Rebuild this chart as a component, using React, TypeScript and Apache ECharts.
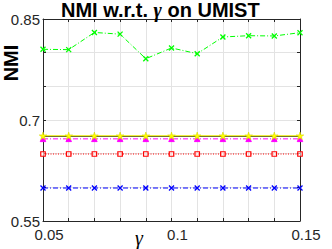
import React, { useEffect, useRef } from "react";
import * as echarts from "echarts";

const gammaValues = [0.05, 0.06, 0.07, 0.08, 0.09, 0.1, 0.11, 0.12, 0.13, 0.14, 0.15];
const greenValues = [0.805, 0.8045, 0.830, 0.8275, 0.791, 0.807, 0.7985, 0.8233, 0.8252, 0.8248, 0.8297];
const yellowValues = [0.6765, 0.6765, 0.6765, 0.6765, 0.6765, 0.6765, 0.6765, 0.6765, 0.6765, 0.6765, 0.6765];
const blackValues = [0.6758, 0.6758, 0.6758, 0.6758, 0.6758, 0.6758, 0.6758, 0.6758, 0.6758, 0.6758, 0.6758];
const magentaValues = [0.672, 0.672, 0.672, 0.672, 0.672, 0.672, 0.672, 0.672, 0.672, 0.672, 0.672];
const redValues = [0.6495, 0.6495, 0.6495, 0.6495, 0.6495, 0.6495, 0.6495, 0.6495, 0.6495, 0.6495, 0.6495];
const blueValues = [0.599, 0.599, 0.599, 0.599, 0.599, 0.599, 0.599, 0.599, 0.599, 0.599, 0.599];
const xTickLabels = ["0.05", "0.1", "0.15"];
const yTickLabels = ["0.55", "0.7", "0.85"];

const FONT = "Liberation Sans, Arial, Helvetica, sans-serif";
const X_MARK = "path://M0,0L10,10M10,0L0,10";
const STAR = "path://M50,0L61,35L98,35L68,57L79,91L50,70L21,91L32,57L2,35L39,35Z";

const pairs = (ys: number[]) => gammaValues.map((x, i) => [x, ys[i]]);

export default function App() {
  const ref = useRef<HTMLDivElement>(null);
  useEffect(() => {
    if (!ref.current) return;
    const chart = echarts.init(ref.current, null, { renderer: "svg" });
    const axisCommon = {
      type: "value" as const,
      axisLine: { show: true, lineStyle: { color: "#262626", width: 1 } },
      axisTick: { show: true, inside: true, length: 3, lineStyle: { color: "#262626" } },
    };
    const xFmt = (v: number) => {
      const s = String(Math.round(v * 100) / 100);
      return xTickLabels.includes(s) ? s : "";
    };
    const yFmt = (v: number) => {
      const s = String(Math.round(v * 100) / 100);
      return yTickLabels.includes(s) ? s : "";
    };
    const mkSeries = (
      name: string,
      ys: number[],
      color: string,
      lineType: any,
      symbol: string,
      symbolSize: number,
      itemStyle: any
    ) => ({
      name,
      type: "line",
      data: pairs(ys),
      symbol,
      symbolSize,
      showSymbol: symbol !== "none",
      lineStyle: { color, width: 1, type: lineType },
      itemStyle,
      silent: true,
    });
    chart.setOption({
      animation: false,
      backgroundColor: "#ffffff",
      title: {
        text: "{b|NMI w.r.t. }{g|γ}{b| on UMIST}",
        left: 61,
        top: 0,
        padding: 0,
        textStyle: {
          rich: {
            b: { fontFamily: FONT, fontWeight: "bold", fontSize: 20, color: "#000", lineHeight: 20 },
            g: { fontFamily: "Liberation Serif, serif", fontStyle: "italic", fontSize: 20, color: "#000", lineHeight: 20 },
          },
        },
      },
      grid: { left: 43, top: 19, right: 32, bottom: 28 },
      xAxis: [
        {
          ...axisCommon,
          position: "bottom",
          min: 0.05,
          max: 0.15,
          interval: 0.01,
          splitLine: { show: true, lineStyle: { color: "#e3e3e3", width: 1 } },
          axisLabel: {
            formatter: xFmt,
            fontFamily: FONT,
            fontSize: 15,
            color: "#262626",
            margin: 6,
            padding: [0, 0, 0, 12],
            showMinLabel: true,
            showMaxLabel: true,
          },
        },
        {
          ...axisCommon,
          position: "top",
          min: 0.05,
          max: 0.15,
          interval: 0.01,
          splitLine: { show: false },
          axisLabel: { show: false },
        },
      ],
      yAxis: [
        {
          ...axisCommon,
          position: "left",
          min: 0.55,
          max: 0.85,
          interval: 0.05,
          splitLine: { show: true, lineStyle: { color: "#e3e3e3", width: 1 } },
          axisLabel: {
            formatter: yFmt,
            fontFamily: FONT,
            fontSize: 15,
            color: "#262626",
            margin: 3,
            showMinLabel: true,
            showMaxLabel: true,
          },
        },
        {
          ...axisCommon,
          position: "right",
          min: 0.55,
          max: 0.85,
          interval: 0.05,
          splitLine: { show: false },
          axisLabel: { show: false },
        },
      ],
      graphic: [
        {
          type: "text",
          x: 11,
          y: 63,
          rotation: Math.PI / 2,
          style: {
            text: "NMI",
            font: `bold 20px ${FONT}`,
            fill: "#000",
            align: "center",
            verticalAlign: "middle",
          },
        },
        {
          type: "text",
          x: 139,
          y: 238,
          style: {
            text: "γ",
            font: "italic 20px Liberation Serif, serif",
            fill: "#000",
            align: "center",
            verticalAlign: "middle",
          },
        },
      ],
      series: [
        mkSeries("blue", blueValues, "#0000ff", [5, 2, 1, 2], X_MARK, 5, {
          color: "#0000ff",
          borderColor: "#0000ff",
          borderWidth: 1.3,
        }),
        mkSeries("red", redValues, "#ff0000", [1, 1.5], "rect", 4.5, {
          color: "rgba(255,255,255,0.6)",
          borderColor: "#ff0000",
          borderWidth: 1.2,
        }),
        mkSeries("magenta", magentaValues, "#ff00ff", [5, 2, 1, 2], "triangle", 5.5, {
          color: "#ff00ff",
          borderColor: "#ff00ff",
          borderWidth: 1,
        }),
        mkSeries("black", blackValues, "#000000", "solid", "none", 0, { color: "#000" }),
        mkSeries("yellow", yellowValues, "#ffff00", "solid", STAR, 7.5, {
          color: "#ffff00",
          borderColor: "#d8d800",
          borderWidth: 0.6,
        }),
        mkSeries("green", greenValues, "#00ff00", [5, 2, 1, 2], X_MARK, 5, {
          color: "#00ff00",
          borderColor: "#00ff00",
          borderWidth: 1.3,
        }),
      ],
    });
    return () => chart.dispose();
  }, []);
  return <div ref={ref} style={{ width: 332, height: 249, position: "absolute", left: 0, top: 0 }} />;
}
